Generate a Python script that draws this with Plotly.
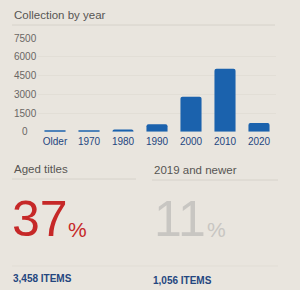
import plotly.graph_objects as go

categories = ["Older", "1970", "1980", "1990", "2000", "2010", "2020"]
counts = [40, 40, 170, 600, 2800, 5050, 700]
y_ticks = [0, 1500, 3000, 4500, 6000, 7500]

chart_title = "Collection by year"
stat_titles = ["Aged titles", "2019 and newer"]
stat_pcts = ["37", "11"]
stat_items = ["3,458 ITEMS", "1,056 ITEMS"]

W, H = 300, 290
BG = "#e9e5de"
FONT = "Liberation Sans, Arial, sans-serif"
BAR = "#1b62ad"
TXT = "#575553"
BLUE_TXT = "#24467f"
LINE = "#d6d2ca"

def px(x):
    return x / W

def py(y):
    return 1 - y / H

fig = go.Figure()
fig.add_trace(go.Bar(x=categories, y=counts, marker=dict(color=BAR, line=dict(width=0)),
                     hoverinfo="skip"))

fig.update_layout(
    width=W, height=H, margin=dict(l=0, r=0, t=0, b=0),
    paper_bgcolor=BG, plot_bgcolor=BG,
    showlegend=False, bargap=0.38, barcornerradius=2,
    font=dict(family=FONT),
    xaxis=dict(domain=[px(38), px(276)], type="category", showgrid=False,
               showline=False, zeroline=False, ticks="",
               tickfont=dict(family=FONT, size=10, color=BLUE_TXT),
               ticklabelstandoff=2),
    yaxis=dict(domain=[py(131.7), py(38.3)], range=[0, 7500], tickvals=y_ticks,
               showticklabels=False, showgrid=True, gridcolor="#e2ded6", gridwidth=1,
               zeroline=False, showline=False, ticks=""),
)

ann = []
for v in y_ticks:
    ann.append(dict(x=px(25), xref="paper", y=v, yref="y", text=str(v), showarrow=False,
                    xanchor="center", yanchor="middle",
                    font=dict(family=FONT, size=10, color="#6a6764")))

ann.append(dict(x=px(12), y=py(15), xref="paper", yref="paper", text=chart_title,
                showarrow=False, xanchor="left", yanchor="middle",
                font=dict(family=FONT, size=11.5, color=TXT)))

stat_x = [12, 152]
pct_x = [10, 152]
stat_title_y = [169, 170]
pct_colors = ["#c62828", "#c8c6c2"]
items_y = [278, 280]
pct_sym_x = [66, 205]
for i in range(2):
    x0 = stat_x[i]
    ann.append(dict(x=px(x0), y=py(stat_title_y[i]), xref="paper", yref="paper",
                    text=stat_titles[i], showarrow=False, xanchor="left", yanchor="middle",
                    font=dict(family=FONT, size=11.5, color=TXT)))
    ann.append(dict(x=px(pct_x[i]), y=py(249), xref="paper", yref="paper",
                    text=stat_pcts[i], showarrow=False, xanchor="left", yanchor="bottom",
                    font=dict(family=FONT, size=50, color=pct_colors[i])))
    ann.append(dict(x=px(pct_sym_x[i]), y=py(243), xref="paper", yref="paper",
                    text="%", showarrow=False, xanchor="left", yanchor="bottom",
                    font=dict(family=FONT, size=21, color=pct_colors[i])))
    ann.append(dict(x=px(x0 - 1), y=py(items_y[i]), xref="paper", yref="paper",
                    text="<b>" + stat_items[i] + "</b>", showarrow=False,
                    xanchor="left", yanchor="middle",
                    font=dict(family=FONT, size=10, color=BLUE_TXT)))

shapes = [
    dict(type="line", xref="paper", yref="paper", x0=px(12), x1=px(275), y0=py(25), y1=py(25),
         line=dict(color=LINE, width=1)),
    dict(type="line", xref="paper", yref="paper", x0=px(12), x1=px(136), y0=py(179), y1=py(179),
         line=dict(color=LINE, width=1)),
    dict(type="line", xref="paper", yref="paper", x0=px(152), x1=px(278), y0=py(180), y1=py(180),
         line=dict(color=LINE, width=1)),
    dict(type="line", xref="paper", yref="paper", x0=px(12), x1=px(278), y0=py(266), y1=py(266),
         line=dict(color="#e1ddd5", width=1)),
]
fig.update_layout(annotations=ann, shapes=shapes)
fig.write_html("out.html")
